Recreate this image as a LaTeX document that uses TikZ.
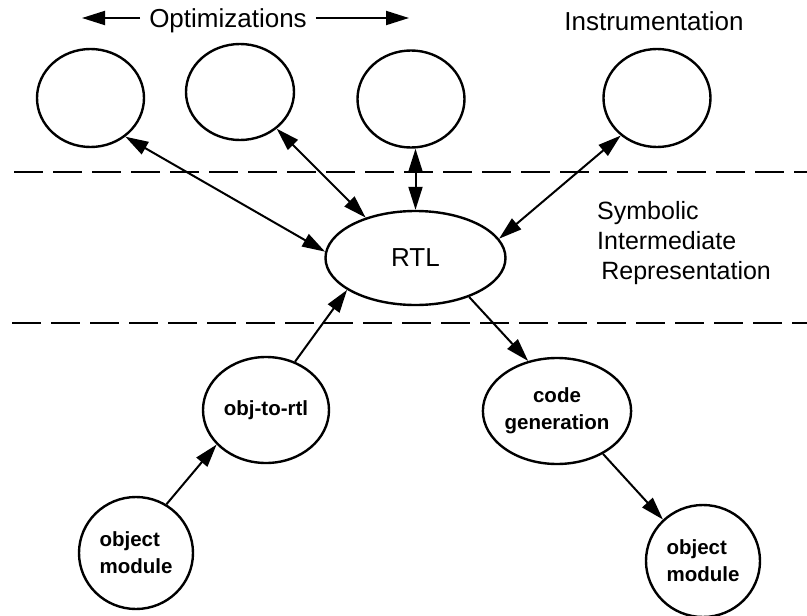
\documentclass[tikz,border=0pt]{standalone}
\usepackage{fontspec}
\setmainfont{Liberation Sans}
\usetikzlibrary{arrows.meta,shapes.geometric}
\tikzset{
  bubble/.style={draw, ellipse, line width=2.4pt, inner sep=0pt},
  toplbl/.style={inner sep=0pt, font=\fontsize{26}{30}\selectfont},
  boldlbl/.style={font=\fontsize{20.5}{27}\bfseries\selectfont, align=center},
  sep/.style={line width=2.7pt, dash pattern=on 29pt off 10pt},
  tipa/.tip={Triangle[length=23pt,width=14pt]},
  onearr/.style={line width=2pt, -tipa},
  twoarr/.style={line width=2pt, tipa-tipa},
}
\begin{document}
\begin{tikzpicture}[x=1pt,y=-1pt]
\useasboundingbox (0,0) rectangle (807,616);

% headings
\node[toplbl] (opt) at (228,21) {Optimizations};
\node[toplbl] (instr) at (654,21) {Instrumentation};
\coordinate (optl) at (82,18);
\coordinate (optr) at (409,18);
\draw[onearr] ([xshift=-9pt]opt.west |- optl) -- (optl);
\draw[onearr] ([xshift=9pt]opt.east |- optr) -- (optr);

% top bubbles
\node[bubble, minimum width=107pt, minimum height=98pt] (e1) at (90.5,98) {};
\node[bubble, minimum width=108pt, minimum height=96pt] (e2) at (240,92) {};
\node[bubble, minimum width=107pt, minimum height=97pt] (e3) at (411,99) {};
\node[bubble, minimum width=107pt, minimum height=98pt] (e4) at (657,98) {};

% dashed separators
\coordinate (d1a) at (14,172);
\coordinate (d1b) at (807,172);
\coordinate (d2a) at (12,323);
\coordinate (d2b) at (807,323);
\draw[sep] (d1a) -- (d1b);
\draw[sep] (d2a) -- (d2b);

% RTL
\node[bubble, minimum width=180pt, minimum height=94pt, font=\fontsize{26}{30}\selectfont] (rtl) at (415.5,258) {RTL};

\node[inner sep=0pt, align=left, anchor=west, font=\fontsize{25}{30}\selectfont] (sir) at (597,243) {Symbolic\\Intermediate\\\,Representation};

% lower bubbles
\node[bubble, boldlbl, minimum width=126pt, minimum height=106pt] (o2r) at (266,410) {obj-to-rtl};
\node[bubble, boldlbl, minimum width=128pt, minimum height=106pt] (cg) at (557,411) {code\\generation};
\node[bubble, boldlbl, align=left, minimum width=114pt, minimum height=112pt] (om1) at (136,553) {object\\module};
\node[bubble, boldlbl, align=left, minimum width=114pt, minimum height=112pt] (om2) at (703,561) {object\\module};

% connectors
\draw[twoarr] (e1.-48.8) -- (rtl.176);
\draw[twoarr] (e2.-45) -- (rtl.141.3);
\draw[twoarr] (rtl.north |- e3.south) -- (rtl.north);
\draw[twoarr] (e4.-134) -- (rtl.13.3);
\draw[onearr] (o2r.59.4) -- (rtl.205.3);
\draw[onearr] (rtl.-36.8) -- (cg.120.4);
\draw[onearr] (om1.58.5) -- (o2r.-145);
\draw[onearr] (cg.-43.6) -- (om2.134);
\end{tikzpicture}
\end{document}
